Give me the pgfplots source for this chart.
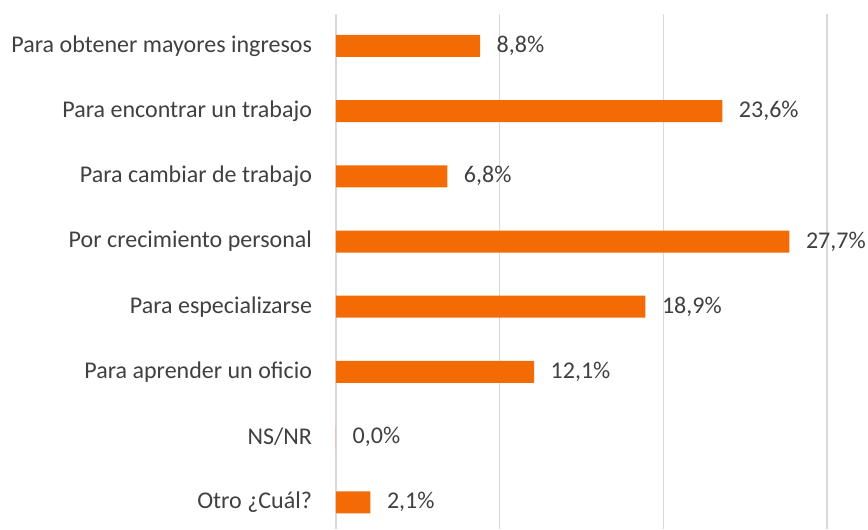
\documentclass[border=0pt]{standalone}
\usepackage{pgfplots}
\pgfplotsset{compat=1.18}
\usepackage{fontspec}
\setmainfont{Carlito}
\definecolor{barorange}{HTML}{F26B05}
\definecolor{txtgray}{HTML}{404040}
\definecolor{gridgray}{HTML}{D9D9D9}
\begin{document}
\begin{tikzpicture}
\begin{axis}[
  scale only axis,
  width=368.25pt, height=386.25pt,
  xbar, bar width=16.5pt,
  xmin=0, xmax=30,
  ymin=-0.49, ymax=7.41,
  y dir=reverse,
  /pgf/number format/assume math mode=true,
  xtick={0,10,20,30}, xticklabels={},
  xmajorgrids, grid style={gridgray, line width=1.2pt},
  ytick={0,...,7},
  yticklabels={Para obtener mayores ingresos, Para encontrar un trabajo, Para cambiar de trabajo, Por crecimiento personal, Para especializarse, Para aprender un oficio, NS/NR, Otro ¿Cuál?},
  yticklabel style={font=\fontsize{18}{21}\selectfont, text=txtgray, xshift=-14.5pt},
  axis line style={draw=none},
  major tick length=0pt,
  nodes near coords={\pgfmathprintnumber[fixed, fixed zerofill, precision=1, use comma, assume math mode=true]{\pgfplotspointmeta}\%},
  nodes near coords style={font=\fontsize{18}{21}\selectfont, text=txtgray, anchor=west, xshift=9pt},
]
\addplot[fill=barorange, draw=none] coordinates {
(8.8,0) (23.6,1) (6.8,2) (27.7,3) (18.9,4) (12.1,5) (0.0,6) (2.1,7)
};
\end{axis}
\pgfresetboundingbox
\path[use as bounding box] ([xshift=-252pt]current axis.south west) rectangle ([xshift=399pt, yshift=396.75pt]current axis.south west);
\end{tikzpicture}
\end{document}
